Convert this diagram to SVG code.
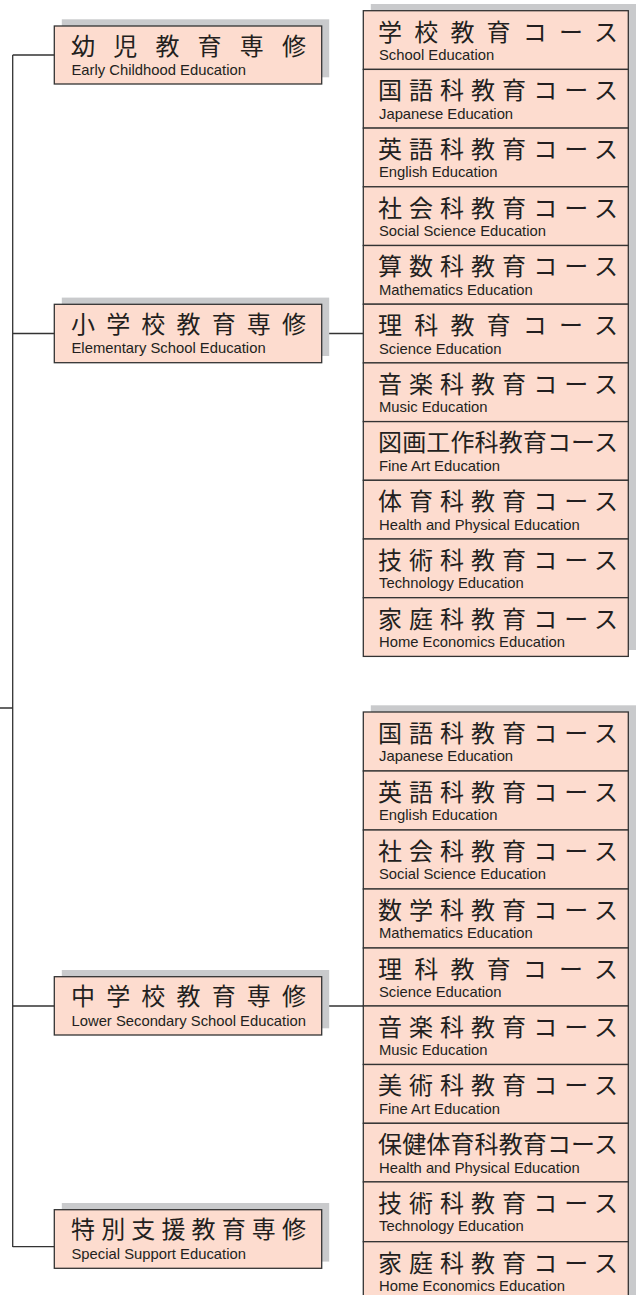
<svg xmlns="http://www.w3.org/2000/svg" width="637" height="1295" viewBox="0 0 637 1295">
<style>
.sh{fill:#c9cacc}
.bx{fill:#fddccf;stroke:#333;stroke-width:1.3}
.jp{font-family:"Noto Sans CJK JP","Noto Sans CJK SC",sans-serif;font-size:24px;fill:#231f20}
.en{font-family:"Liberation Sans",Arial,sans-serif;font-size:14.8px;fill:#231f20}
.ln{stroke:#333;stroke-width:1.3;fill:none}
</style>
<rect width="637" height="1295" fill="#fff"/>
<g id="connectors">
<path class="ln" d="M12.7 55V1247M0 708H12.7M12.7 55H54.3M12.7 333.5H54.3M321.7 333.5H363.3M12.7 1006H54.3M321.7 1006H363.3M12.7 1246.7H54.3"/>
</g>
<g id="n-early">
<rect class="sh" x="61.8" y="19.3" width="267.4" height="58"/>
<rect class="bx" x="54.3" y="26" width="267.4" height="58"/>
<text class="jp" x="71" y="54.5" textLength="235" lengthAdjust="spacing">幼児教育専修</text>
<text class="en" x="71.5" y="75">Early Childhood Education</text>
</g>
<g id="n-elem">
<rect class="sh" x="61.8" y="297.6" width="267.4" height="58.4"/>
<rect class="bx" x="54.3" y="304.3" width="267.4" height="58.4"/>
<text class="jp" x="71" y="332.8" textLength="235" lengthAdjust="spacing">小学校教育専修</text>
<text class="en" x="71.5" y="353.3">Elementary School Education</text>
</g>
<g id="n-lower">
<rect class="sh" x="61.8" y="970" width="267.4" height="58.3"/>
<rect class="bx" x="54.3" y="976.7" width="267.4" height="58.3"/>
<text class="jp" x="71" y="1005.2" textLength="235" lengthAdjust="spacing">中学校教育専修</text>
<text class="en" x="71.5" y="1025.7">Lower Secondary School Education</text>
</g>
<g id="n-special">
<rect class="sh" x="61.8" y="1203" width="267.4" height="58.6"/>
<rect class="bx" x="54.3" y="1209.7" width="267.4" height="58.6"/>
<text class="jp" x="71" y="1238.2" textLength="235" lengthAdjust="spacing">特別支援教育専修</text>
<text class="en" x="71.5" y="1258.7">Special Support Education</text>
</g>
<g id="elem-courses">
<rect class="sh" x="370.8" y="4" width="265.2" height="646"/>
<g id="e1"><rect class="bx" x="363.3" y="10.7" width="265" height="58.7"/><text class="jp" x="378" y="40.5" textLength="240" lengthAdjust="spacing">学校教育コース</text><text class="en" x="379" y="60">School Education</text></g>
<g id="e2"><rect class="bx" x="363.3" y="69.4" width="265" height="58.7"/><text class="jp" x="378" y="99.2" textLength="240" lengthAdjust="spacing">国語科教育コース</text><text class="en" x="379" y="118.7">Japanese Education</text></g>
<g id="e3"><rect class="bx" x="363.3" y="128.1" width="265" height="58.7"/><text class="jp" x="378" y="157.9" textLength="240" lengthAdjust="spacing">英語科教育コース</text><text class="en" x="379" y="177.4">English Education</text></g>
<g id="e4"><rect class="bx" x="363.3" y="186.8" width="265" height="58.7"/><text class="jp" x="378" y="216.6" textLength="240" lengthAdjust="spacing">社会科教育コース</text><text class="en" x="379" y="236.1">Social Science Education</text></g>
<g id="e5"><rect class="bx" x="363.3" y="245.5" width="265" height="58.7"/><text class="jp" x="378" y="275.3" textLength="240" lengthAdjust="spacing">算数科教育コース</text><text class="en" x="379" y="294.8">Mathematics Education</text></g>
<g id="e6"><rect class="bx" x="363.3" y="304.2" width="265" height="58.7"/><text class="jp" x="378" y="334" textLength="240" lengthAdjust="spacing">理科教育コース</text><text class="en" x="379" y="353.5">Science Education</text></g>
<g id="e7"><rect class="bx" x="363.3" y="362.9" width="265" height="58.7"/><text class="jp" x="378" y="392.7" textLength="240" lengthAdjust="spacing">音楽科教育コース</text><text class="en" x="379" y="412.2">Music Education</text></g>
<g id="e8"><rect class="bx" x="363.3" y="421.6" width="265" height="58.7"/><text class="jp" x="378" y="451.4" textLength="240" lengthAdjust="spacing">図画工作科教育コース</text><text class="en" x="379" y="470.9">Fine Art Education</text></g>
<g id="e9"><rect class="bx" x="363.3" y="480.3" width="265" height="58.7"/><text class="jp" x="378" y="510.1" textLength="240" lengthAdjust="spacing">体育科教育コース</text><text class="en" x="379" y="529.6">Health and Physical Education</text></g>
<g id="e10"><rect class="bx" x="363.3" y="539" width="265" height="58.7"/><text class="jp" x="378" y="568.8" textLength="240" lengthAdjust="spacing">技術科教育コース</text><text class="en" x="379" y="588.3">Technology Education</text></g>
<g id="e11"><rect class="bx" x="363.3" y="597.7" width="265" height="58.7"/><text class="jp" x="378" y="627.5" textLength="240" lengthAdjust="spacing">家庭科教育コース</text><text class="en" x="379" y="647">Home Economics Education</text></g>
</g>
<g id="lower-courses">
<rect class="sh" x="370.8" y="705.3" width="265.2" height="620"/>
<g id="l1"><rect class="bx" x="363.3" y="712" width="265" height="59"/><text class="jp" x="378" y="741.8" textLength="240" lengthAdjust="spacing">国語科教育コース</text><text class="en" x="379" y="761.3">Japanese Education</text></g>
<g id="l2"><rect class="bx" x="363.3" y="771" width="265" height="59"/><text class="jp" x="378" y="800.8" textLength="240" lengthAdjust="spacing">英語科教育コース</text><text class="en" x="379" y="820.3">English Education</text></g>
<g id="l3"><rect class="bx" x="363.3" y="830" width="265" height="59"/><text class="jp" x="378" y="859.8" textLength="240" lengthAdjust="spacing">社会科教育コース</text><text class="en" x="379" y="879.3">Social Science Education</text></g>
<g id="l4"><rect class="bx" x="363.3" y="889" width="265" height="59"/><text class="jp" x="378" y="918.8" textLength="240" lengthAdjust="spacing">数学科教育コース</text><text class="en" x="379" y="938.3">Mathematics Education</text></g>
<g id="l5"><rect class="bx" x="363.3" y="948" width="265" height="58"/><text class="jp" x="378" y="977.8" textLength="240" lengthAdjust="spacing">理科教育コース</text><text class="en" x="379" y="997.3">Science Education</text></g>
<g id="l6"><rect class="bx" x="363.3" y="1006" width="265" height="58.5"/><text class="jp" x="378" y="1035.8" textLength="240" lengthAdjust="spacing">音楽科教育コース</text><text class="en" x="379" y="1055.3">Music Education</text></g>
<g id="l7"><rect class="bx" x="363.3" y="1064.5" width="265" height="58.8"/><text class="jp" x="378" y="1094.3" textLength="240" lengthAdjust="spacing">美術科教育コース</text><text class="en" x="379" y="1113.8">Fine Art Education</text></g>
<g id="l8"><rect class="bx" x="363.3" y="1123.3" width="265" height="58.6"/><text class="jp" x="378" y="1153.1" textLength="240" lengthAdjust="spacing">保健体育科教育コース</text><text class="en" x="379" y="1172.6">Health and Physical Education</text></g>
<g id="l9"><rect class="bx" x="363.3" y="1181.9" width="265" height="59.8"/><text class="jp" x="378" y="1211.7" textLength="240" lengthAdjust="spacing">技術科教育コース</text><text class="en" x="379" y="1231.2">Technology Education</text></g>
<g id="l10"><rect class="bx" x="363.3" y="1241.7" width="265" height="70"/><text class="jp" x="378" y="1271.5" textLength="240" lengthAdjust="spacing">家庭科教育コース</text><text class="en" x="379" y="1291">Home Economics Education</text></g>
</g>
</svg>
